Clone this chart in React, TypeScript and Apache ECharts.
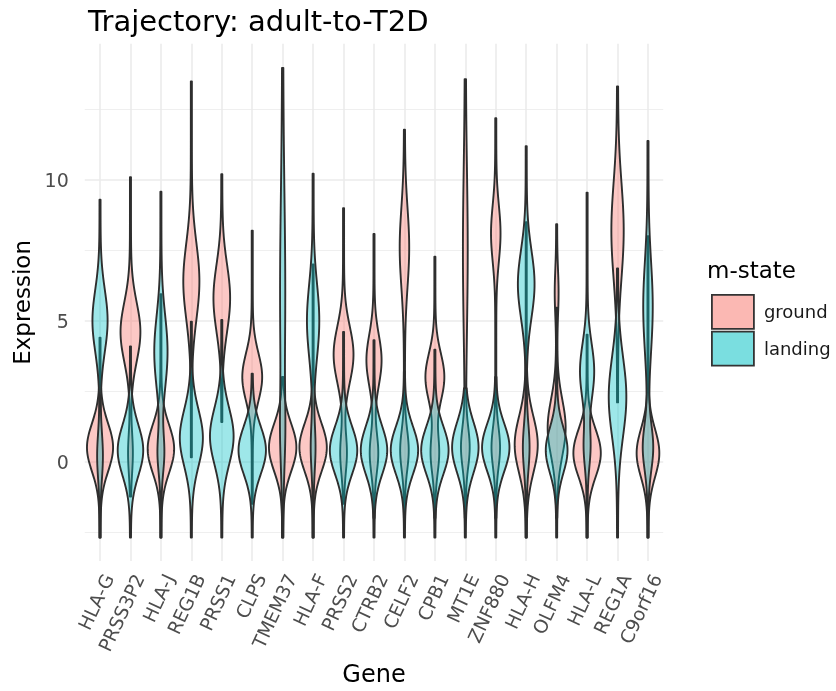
import { useEffect, useRef } from 'react';
import * as echarts from 'echarts';

const genes = ['HLA-G', 'PRSS3P2', 'HLA-J', 'REG1B', 'PRSS1', 'CLPS', 'TMEM37', 'HLA-F', 'PRSS2', 'CTRB2', 'CELF2', 'CPB1', 'MT1E', 'ZNF880', 'HLA-H', 'OLFM4', 'HLA-L', 'REG1A', 'C9orf16'];
const stateNames = ['ground', 'landing'];
const yLabelValues = [0, 5, 10];
const yMinorValues = [-2.5, 2.5, 7.5, 12.5];

// observed range of each violin (min, max expression)
const groundMin = [-2.7, -1.24, -2.7, 0.15, 1.4, -1.5, -2.7, -2.7, -1.5, -2.0, -2.0, -2.0, -2.0, -2.0, -2.7, -2.0, -2.7, 2.1, -2.7];
const groundMax = [4.4, 10.1, 5.94, 13.5, 10.2, 8.2, 3.0, 7.0, 9.0, 8.08, 11.78, 7.27, 13.58, 12.19, 8.5, 8.43, 4.5, 13.32, 8.0];
const landingMin = [-2.7, -2.7, -2.7, -2.7, -2.7, -2.7, -2.7, -2.7, -2.7, -2.7, -2.7, -2.7, -2.7, -2.7, -2.7, -2.7, -2.7, -2.7, -2.7];
const landingMax = [9.3, 4.09, 9.58, 4.97, 5.03, 3.12, 13.98, 10.22, 4.6, 4.31, 3.2, 3.97, 2.6, 3.0, 11.2, 5.46, 9.55, 6.86, 11.38];

// density modes: [centre, spread, relative density]
const groundDensity: number[][][] = [
  [[0.5, 0.85, 13.3]],
  [[4.6, 1.05, 10], [0.3, 0.7, 2]],
  [[0.45, 0.85, 13.5]],
  [[6.4, 1.35, 8]],
  [[5.8, 1.2, 8.3]],
  [[3.0, 0.85, 10]],
  [[0.5, 0.85, 14]],
  [[0.5, 0.85, 14]],
  [[3.8, 1.0, 10], [0.3, 0.7, 3]],
  [[3.6, 0.9, 7.5], [0.3, 0.7, 4]],
  [[7.6, 1.4, 4.5], [0.4, 0.7, 4]],
  [[3.0, 0.85, 9.5], [0.3, 0.7, 4]],
  [[7.5, 2.8, 2], [0.5, 0.7, 4]],
  [[8.1, 1.0, 4.5], [0.5, 0.7, 4]],
  [[0.6, 1.0, 11.7]],
  [[6.0, 0.8, 1.5], [1.2, 1.0, 9]],
  [[0.3, 0.85, 14]],
  [[8.2, 1.7, 6]],
  [[0.3, 0.85, 11.5]],
];
const landingDensity: number[][][] = [
  [[5.0, 1.1, 7.5], [0.2, 0.8, 2.5]],
  [[0.4, 0.9, 13]],
  [[3.9, 1.3, 6.5], [0.3, 0.7, 3]],
  [[0.84, 1.0, 11.7]],
  [[0.9, 1.0, 12]],
  [[0.4, 0.85, 14]],
  [[6.0, 3.5, 2.2], [1.0, 1.2, 1.5]],
  [[5.0, 1.3, 6], [0.5, 0.8, 2]],
  [[0.4, 0.85, 14]],
  [[0.4, 0.85, 13.5]],
  [[0.4, 0.85, 14]],
  [[0.4, 0.85, 14]],
  [[0.5, 0.9, 13.5]],
  [[0.5, 0.85, 14]],
  [[6.3, 1.2, 8.3], [0.5, 0.8, 3]],
  [[0.4, 0.8, 11]],
  [[3.2, 1.0, 7], [0.5, 0.7, 3]],
  [[2.3, 1.4, 8.8]],
  [[5.5, 1.6, 4.5], [0.5, 0.8, 5]],
];

const TAIL = 0.55;
const STEPS = 160;

function buildProfile(lo: number, hi: number, comps: number[][]) {
  const pts: number[][] = [];
  for (let k = 0; k <= STEPS; k++) {
    const y = lo + ((hi - lo) * k) / STEPS;
    let a = TAIL;
    for (const [m, s, w] of comps) a += w * Math.exp(-0.5 * ((y - m) / s) ** 2);
    pts.push([y, a]);
  }
  return pts;
}

const groundProfiles = genes.map((_, i) => buildProfile(groundMin[i], groundMax[i], groundDensity[i]));
const landingProfiles = genes.map((_, i) => buildProfile(landingMin[i], landingMax[i], landingDensity[i]));
let globalMax = 0;
[...groundProfiles, ...landingProfiles].forEach((p) => p.forEach(([, a]) => { if (a > globalMax) globalMax = a; }));

const FONT = 'DejaVu Sans';
const GROUND_FILL = 'rgba(248,118,109,0.40)';
const LANDING_FILL = 'rgba(0,191,196,0.38)';
const GROUND_KEY = 'rgba(248,118,109,0.52)';
const LANDING_KEY = 'rgba(0,191,196,0.52)';

function makeRender(profiles: number[][][], fill: string) {
  return (params: any, api: any) => {
    const i = api.value(0);
    const prof = profiles[i];
    const band = api.size([1, 0])[0];
    const k = (0.45 * band) / globalMax;
    const right: number[][] = [];
    const left: number[][] = [];
    for (const [y, a] of prof) {
      const c = api.coord([i, y]);
      right.push([c[0] + a * k, c[1]]);
      left.push([c[0] - a * k, c[1]]);
    }
    return {
      type: 'polygon',
      shape: { points: right.concat(left.reverse()) },
      style: { fill, stroke: '#2E2E2E', lineWidth: 1.9, lineJoin: 'round' },
    };
  };
}

export default function App() {
  const ref = useRef<HTMLDivElement>(null);
  useEffect(() => {
    if (!ref.current) return;
    const chart = echarts.init(ref.current, undefined, { renderer: 'svg' });
    const gridLines = [
      ...yLabelValues.map((v) => ({ yAxis: v, lineStyle: { width: 1.6 } })),
      ...yMinorValues.map((v) => ({ yAxis: v, lineStyle: { width: 0.8 } })),
      ...genes.map((g) => ({ xAxis: g, lineStyle: { width: 1.6 } })),
    ];
    chart.setOption({
      animation: false,
      title: {
        text: 'Trajectory: adult-to-T2D',
        left: 83,
        top: 1,
        textStyle: { fontFamily: FONT, fontSize: 29, fontWeight: 'normal', color: '#000' },
      },
      grid: { left: 84.8, right: 172.8, top: 43.75, bottom: 118.2, containLabel: false },
      xAxis: {
        type: 'category',
        data: genes,
        name: 'Gene',
        nameLocation: 'middle',
        nameGap: 84,
        nameTextStyle: { fontFamily: FONT, fontSize: 24, color: '#000' },
        axisLine: { show: false },
        axisTick: { show: false },
        splitLine: { show: false },
        axisLabel: {
          interval: 0,
          rotate: 65,
          verticalAlign: 'top',
          margin: 10,
          fontFamily: FONT,
          fontSize: 18.7,
          color: '#4D4D4D',
        },
      },
      yAxis: {
        type: 'value',
        min: -3.535,
        max: 14.835,
        name: 'Expression',
        nameLocation: 'middle',
        nameGap: 50,
        nameTextStyle: { fontFamily: FONT, fontSize: 23, color: '#000' },
        axisLine: { show: false },
        axisTick: { show: false },
        splitLine: { show: false },
        axisLabel: {
          customValues: yLabelValues,
          margin: 16,
          fontFamily: FONT,
          fontSize: 19,
          color: '#4D4D4D',
        },
      },
      legend: {
        orient: 'vertical',
        left: 706,
        top: 289,
        itemWidth: 42,
        itemHeight: 34,
        itemGap: 1,
        icon: 'rect',
        selectedMode: false,
        textStyle: { fontFamily: FONT, fontSize: 18, color: '#1A1A1A', padding: [0, 0, 0, 5] },
        data: [
          { name: stateNames[0], itemStyle: { color: GROUND_KEY, borderColor: '#333333', borderWidth: 1.8 } },
          { name: stateNames[1], itemStyle: { color: LANDING_KEY, borderColor: '#333333', borderWidth: 1.8 } },
        ],
      },
      graphic: [
        {
          type: 'text',
          left: 707,
          top: 258,
          style: { text: 'm-state', fontFamily: FONT, fontSize: 23, fill: '#000' },
        },
      ],
      series: [
        {
          type: 'custom',
          name: stateNames[0],
          renderItem: makeRender(groundProfiles, GROUND_FILL),
          data: genes.map((_, i) => [i, 0]),
          encode: { x: 0, y: 1 },
          itemStyle: { color: GROUND_KEY },
          silent: true,
          z: 2,
          markLine: {
            silent: true,
            symbol: ['none', 'none'],
            label: { show: false },
            lineStyle: { color: '#EBEBEB', type: 'solid' },
            z: 1,
            data: gridLines,
          },
        },
        {
          type: 'custom',
          name: stateNames[1],
          renderItem: makeRender(landingProfiles, LANDING_FILL),
          data: genes.map((_, i) => [i, 0]),
          encode: { x: 0, y: 1 },
          itemStyle: { color: LANDING_KEY },
          silent: true,
          z: 3,
        },
      ],
    });
    return () => chart.dispose();
  }, []);
  return <div ref={ref} style={{ position: 'fixed', left: 0, top: 0, width: 836, height: 691 }} />;
}
